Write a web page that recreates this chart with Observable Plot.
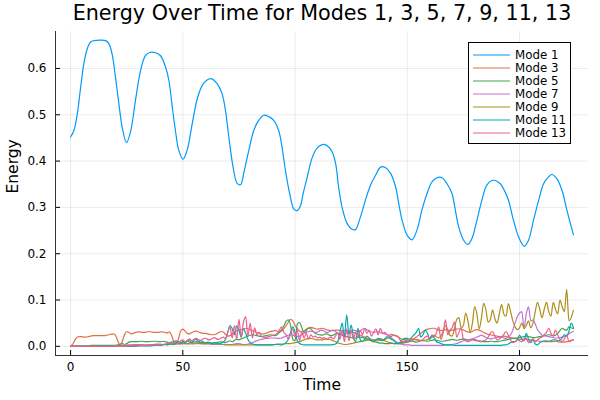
<!DOCTYPE html>
<html><head><meta charset="utf-8">
<script src="https://cdn.jsdelivr.net/npm/d3@7"></script>
<script src="https://cdn.jsdelivr.net/npm/@observablehq/plot@0.6"></script>
<style>
body{margin:0;background:#fff;font-family:"DejaVu Sans",sans-serif;}
#wrap{position:relative;width:600px;height:400px;}
#legend{position:absolute;left:468px;top:42px;width:103px;height:102px;border:1px solid #000;background:#fff;box-sizing:border-box;}
.lrow{position:absolute;left:0;height:13px;display:flex;align-items:center;font-size:11.8px;color:#000;white-space:nowrap;}
.lrow svg{margin-left:4px;margin-right:5px;}
</style></head><body><div id="wrap"></div><script>
// Mode labels and colours
const modes = ["Mode 1","Mode 3","Mode 5","Mode 7","Mode 9","Mode 11","Mode 13"];
const colors = ["#009AFA","#E36F47","#3EA44E","#C371D2","#AC8E18","#00AAAE","#ED5E93"];
const xTicks = [0,50,100,150,200];
const yTicks = [0,0.1,0.2,0.3,0.4,0.5,0.6];

// Mode 1: (time, energy)
const mode1Time = [0,1.5,3,4.5,5.9,7.4,8.9,10.4,13,15.6,17.1,18.5,20,21.5,23,24.9,26.7,28.9,31.2,33.4,35.6,37.8,40,42.3,43.8,45.3,46.7,48.2,50.1,51.9,54.2,56.4,58.6,60.8,62.6,65.3,67.5,69,70.5,72.4,74.2,75.7,77.4,79.4,81.6,83.8,86.1,88.3,90.5,92.7,94.2,95.7,97.6,99.4,100.9,102.4,103.6,105.4,107.6,109.8,112.9,115.1,116.6,118.1,119.4,120.9,123.2,125.4,126.9,129.1,131.3,133.6,135.8,138.1,140.2,142.6,144.8,146.2,147.7,149.9,152.1,154.3,156.5,158.8,161,163.2,165.5,167.7,169.9,171.4,172.9,175.1,177,178.8,181,183.2,185.4,187.7,189.2,191.4,193.6,195.1,197.3,199.6,202.1,204,206.2,208.5,210.7,212.9,214.4,216.6,218.9,221.1,224];
const mode1Energy = [0.452,0.466,0.502,0.56,0.61,0.642,0.657,0.66,0.661,0.66,0.653,0.631,0.581,0.524,0.473,0.44,0.463,0.531,0.596,0.628,0.635,0.634,0.628,0.603,0.574,0.517,0.466,0.423,0.404,0.423,0.481,0.534,0.563,0.575,0.578,0.567,0.545,0.509,0.452,0.387,0.352,0.349,0.38,0.423,0.466,0.488,0.499,0.496,0.488,0.466,0.43,0.38,0.33,0.297,0.293,0.303,0.33,0.365,0.407,0.428,0.436,0.43,0.419,0.394,0.344,0.301,0.265,0.253,0.252,0.279,0.315,0.348,0.369,0.387,0.386,0.373,0.344,0.308,0.272,0.24,0.23,0.251,0.294,0.33,0.355,0.364,0.364,0.351,0.33,0.294,0.258,0.229,0.22,0.233,0.272,0.315,0.348,0.358,0.358,0.351,0.333,0.315,0.272,0.236,0.216,0.229,0.272,0.315,0.351,0.366,0.371,0.362,0.337,0.294,0.241];

// Higher modes sampled at t = 0,1,...,224; values in thousandths of energy units
const timeGrid = d3.range(0, 225);
const mode3Milli = [
0,5,14,20,21,21,20,20,21,22,23,23,23,23,23,23,24,25,26,27,24,12,2,10,25,
32,30,27,28,30,31,31,30,30,31,32,31,30,30,30,31,31,30,29,31,24,10,5,15,33,
37,33,28,27,30,32,33,31,29,28,28,27,26,25,25,27,30,32,31,26,22,23,27,31,34,
35,36,38,39,38,36,34,32,30,28,27,27,28,30,32,33,34,33,31,33,38,45,52,58,55,
45,38,33,31,33,37,40,41,40,38,37,38,39,38,36,35,34,34,35,35,34,33,34,33,32,
31,30,28,26,24,22,20,18,17,15,14,14,15,16,15,12,10,8,7,6,6,7,8,9,10,
11,12,14,17,20,24,28,32,35,37,38,39,39,37,35,34,35,36,35,34,35,36,37,38,37,
35,33,31,30,32,35,36,35,33,30,28,26,25,24,23,22,21,21,22,21,20,19,18,17,16,
15,15,16,15,14,14,13,12,12,11,11,10,10,10,10,10,11,10,9,9,9,10,11,13,14];
const mode5Milli = [
0,1,1,1,1,1,1,1,1,2,2,2,2,2,2,2,2,2,2,2,2,3,5,6,4,
6,9,10,10,10,10,11,11,10,10,10,11,11,11,10,10,11,10,9,8,9,11,12,10,8,
9,10,11,9,8,9,10,9,8,8,7,8,8,7,7,8,9,10,9,8,10,12,10,13,15,
14,16,18,20,22,24,25,24,23,22,21,22,23,24,25,24,23,25,30,36,44,54,57,45,15,
12,48,52,40,30,34,39,38,32,28,26,25,24,26,27,25,23,24,27,28,26,24,22,21,20,
19,18,18,19,20,19,17,15,14,12,10,9,8,7,7,6,6,6,7,6,6,5,6,7,8,
9,10,11,10,9,10,12,13,12,11,12,13,14,13,12,11,11,12,13,14,15,14,13,14,15,
16,15,14,14,15,13,12,11,10,10,10,10,11,11,10,10,11,12,13,14,15,16,17,18,18,
19,20,21,22,21,20,19,19,20,21,22,23,24,25,24,23,24,28,34,39,36,35,42,40,38];
const mode7Milli = [
0,0,0,0,0,0,0,0,0,0,0,0,0,0,0,0,0,0,0,0,1,1,2,2,3,
3,3,4,4,4,4,4,4,3,3,4,4,4,5,5,5,4,4,4,5,5,5,6,6,6,
6,6,5,5,5,5,6,6,6,5,5,5,5,4,4,4,5,5,4,3,3,3,4,5,6,
6,5,4,4,5,6,8,10,12,14,15,16,17,17,18,18,18,17,17,18,20,22,24,25,24,
22,21,22,25,28,30,32,33,32,30,31,34,35,33,30,31,34,35,32,28,27,26,27,29,31,
33,35,34,31,33,37,39,36,33,31,30,31,32,30,28,27,25,22,18,14,10,7,5,4,3,
3,3,2,2,2,2,2,2,2,2,2,2,2,2,2,2,2,3,3,3,4,5,6,8,10,
12,13,14,15,16,18,20,22,24,22,19,17,16,17,18,19,20,19,18,17,20,25,35,50,64,
72,75,40,70,85,55,57,48,36,30,25,23,22,21,20,19,18,18,19,20,22,24,27,30,32];
const mode9Milli = [
0,0,0,0,0,0,0,0,0,0,0,0,0,0,0,0,0,0,0,0,0,1,1,1,1,
1,1,1,1,2,2,2,2,2,2,2,3,3,3,3,3,3,4,4,4,4,5,5,5,5,
6,6,6,7,7,7,7,7,6,6,6,6,6,5,5,5,5,4,4,4,4,4,3,3,3,
3,3,3,3,3,3,3,3,3,3,3,3,3,3,3,4,4,4,5,5,5,6,6,6,7,
8,9,10,12,14,16,17,17,16,15,14,14,14,15,16,15,14,12,10,8,6,5,4,4,5,
6,7,8,9,10,11,12,13,14,14,13,12,12,13,14,15,17,20,22,24,23,20,17,15,14,
14,15,16,15,14,13,12,12,13,15,17,20,24,20,18,22,32,44,36,24,22,38,58,62,40,
45,72,55,30,50,86,70,38,60,93,80,52,58,78,60,50,70,90,70,65,92,75,55,42,36,
40,50,38,45,55,40,50,75,95,80,62,80,95,75,65,95,80,70,100,85,75,123,55,62,78];
const mode11Milli = [
0,0,0,0,0,0,0,0,0,0,0,0,0,0,0,0,0,0,0,0,0,0,0,0,0,
0,0,0,0,0,1,1,1,1,1,1,1,2,2,2,2,3,4,3,5,7,4,8,10,6,
11,7,12,14,8,13,15,9,12,10,7,9,8,6,8,7,5,7,9,15,30,45,38,25,44,
35,20,38,28,15,8,5,4,3,3,3,3,3,3,3,3,4,5,4,3,5,8,15,30,42,
30,12,6,4,3,3,3,3,3,3,3,3,3,3,3,3,3,4,5,10,30,50,20,68,25,
46,20,10,39,15,10,15,22,18,12,10,14,17,15,12,16,21,18,15,12,8,6,10,15,17,
17,15,20,25,30,39,20,25,35,28,15,22,18,10,8,6,4,3,3,3,3,2,2,2,2,
2,2,2,2,2,2,2,2,2,2,2,2,2,2,2,2,2,2,3,3,5,8,10,10,15,
24,15,12,28,15,8,15,5,3,8,10,12,12,11,12,14,14,12,13,18,25,22,32,50,40];
const mode13Milli = [
0,0,0,0,0,0,0,0,0,0,0,0,0,0,0,0,0,0,0,0,0,0,0,0,0,
1,1,1,1,1,1,2,2,2,2,2,2,3,3,3,3,4,5,6,8,6,9,11,7,12,
14,10,13,16,12,15,17,14,13,16,18,15,14,17,19,16,15,18,20,16,30,42,18,45,15,
58,20,52,64,22,50,18,40,25,30,22,20,19,21,22,24,25,28,35,42,30,25,15,28,38,
20,35,12,32,18,28,15,25,20,22,18,20,17,19,15,18,20,16,22,30,15,35,10,38,12,
34,15,30,20,35,25,38,28,35,22,30,38,25,39,28,30,25,24,26,24,22,20,12,10,12,
14,14,13,14,15,14,13,15,20,22,18,25,20,30,42,15,30,57,25,35,40,53,20,30,39,
15,12,10,12,14,15,13,12,11,12,14,20,28,32,22,14,16,20,26,32,24,13,8,10,14,
12,10,15,18,8,12,16,10,14,18,20,25,30,39,28,22,35,25,15,10,16,24,10,12,14];

const titleText = "Energy Over Time for Modes 1, 3, 5, 7, 9, 11, 13";
const xLabel = "Time";
const yLabel = "Energy";

// Build tables
const rows1 = mode1Time.map((t, i) => ({t, e: mode1Energy[i], mode: modes[0]}));
const rowsN = [];
[mode3Milli, mode5Milli, mode7Milli, mode9Milli, mode11Milli, mode13Milli].forEach((arr, k) => {
  timeGrid.forEach((t, i) => { if (i < arr.length) rowsN.push({t, e: arr[i] / 1000, mode: modes[k + 1]}); });
});

const W = 600, H = 400, mL = 55, mR = 12, mT = 31, mB = 45;
const xDom = [-6.72, 230.72], yDom = [-0.0198, 0.6798];
const plotW = W - mL - mR, plotH = H - mT - mB;

const chart = Plot.plot({
  width: W, height: H,
  marginLeft: mL, marginRight: mR, marginTop: mT, marginBottom: mB,
  style: {fontFamily: "DejaVu Sans", fontSize: "12px", color: "#000", background: "#fff", overflow: "visible"},
  x: {domain: xDom, label: null},
  y: {domain: yDom, label: null},
  color: {domain: modes, range: colors},
  marks: [
    Plot.gridX(xTicks, {stroke: "#000", strokeOpacity: 0.08, strokeWidth: 1}),
    Plot.gridY(yTicks, {stroke: "#000", strokeOpacity: 0.08, strokeWidth: 1}),
    Plot.axisX(xTicks, {tickSize: 0, tickPadding: 7, label: null, fontSize: 12}),
    Plot.axisY(yTicks, {tickSize: 0, tickPadding: 9, tickFormat: d3.format(".1f"), label: null, fontSize: 12}),
    Plot.tickX(xTicks, {x: d => d, stroke: "#000", insetTop: plotH - 5}),
    Plot.tickY(yTicks, {y: d => d, stroke: "#000", insetRight: plotW - 5}),
    Plot.ruleX([xDom[0]], {stroke: "#333", strokeWidth: 1}),
    Plot.ruleY([yDom[0]], {stroke: "#333", strokeWidth: 1}),
    Plot.line(rows1, {x: "t", y: "e", stroke: "mode", strokeWidth: 1.2, curve: "catmull-rom"}),
    Plot.line(rowsN, {x: "t", y: "e", z: "mode", stroke: "mode", strokeWidth: 1.2, curve: "monotone-x"}),
    Plot.text([titleText], {frameAnchor: "top", dy: -18, fontSize: 20.7, lineAnchor: "middle", fill: "#000"}),
    Plot.text([xLabel], {frameAnchor: "bottom", dy: 30, fontSize: 15.5, lineAnchor: "middle", fill: "#000"}),
    Plot.text([yLabel], {frameAnchor: "left", dx: -42, rotate: -90, fontSize: 15.5, lineAnchor: "middle", fill: "#000"})
  ]
});

const wrap = document.getElementById("wrap");
wrap.appendChild(chart);

// Legend (HTML overlay)
const legend = document.createElement("div");
legend.id = "legend";
modes.forEach((m, i) => {
  const row = document.createElement("div");
  row.className = "lrow";
  row.style.top = (5.3 + 13.05 * i) + "px";
  row.innerHTML = `<svg width="37" height="4"><line x1="0" x2="37" y1="2" y2="2" stroke="${colors[i]}" stroke-width="1.2"/></svg><span>${m}</span>`;
  legend.appendChild(row);
});
wrap.appendChild(legend);
</script></body></html>
